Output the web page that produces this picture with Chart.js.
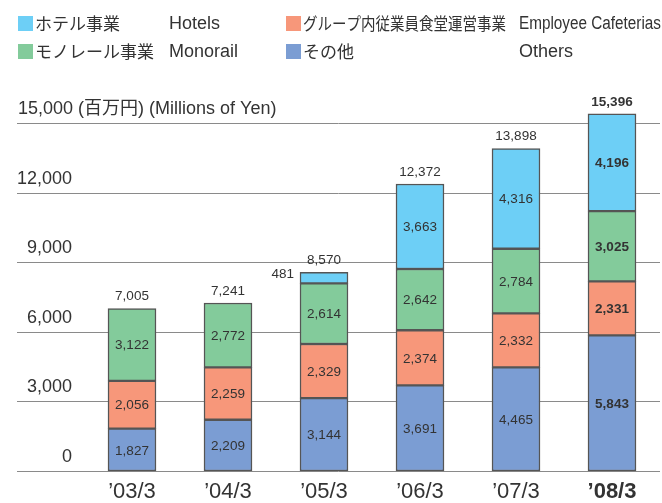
<!DOCTYPE html>
<html><head><meta charset="utf-8">
<script src="https://cdn.jsdelivr.net/npm/chart.js@4.4.1/dist/chart.umd.min.js"></script>
<style>html,body{margin:0;padding:0;background:#fff;}#wrap{width:662px;height:503px;position:relative;}</style>
</head><body><div id="wrap"><canvas id="c" width="662" height="503"></canvas></div>
<script>
const categories = ["’03/3","’04/3","’05/3","’06/3","’07/3","’08/3"];
const others     = [1827, 2209, 3144, 3691, 4465, 5843];
const cafeterias = [2056, 2259, 2329, 2374, 2332, 2331];
const monorail   = [3122, 2772, 2614, 2642, 2784, 3025];
const hotels     = [null, null, 481, 3663, 4316, 4196];
const totals     = [7005, 7241, 8570, 12372, 13898, 15396];
const yTicks     = [0, 3000, 6000, 9000, 12000, 15000];
const namesJa = ["その他", "グループ内従業員食堂運営事業", "モノレール事業", "ホテル事業"];
const namesEn = ["Others", "Employee Cafeterias", "Monorail", "Hotels"];
const unitLabel = "15,000 (百万円) (Millions of Yen)";

const colors = ["#7b9dd3", "#f7977a", "#83cb9b", "#6dcff6"];
const JP = '"Noto Sans CJK JP","Liberation Sans",Arial,sans-serif';
const EN = '"Liberation Sans",Arial,Helvetica,sans-serif';
const MIX = '"Liberation Sans","Noto Sans CJK JP",Arial,sans-serif';
const fmt = v => v.toLocaleString('en-US');

const gridPlugin = {
  id: 'grid',
  beforeDatasetsDraw(chart) {
    const ctx = chart.ctx, y = chart.scales.y;
    ctx.save();
    ctx.strokeStyle = '#8a8a8a';
    ctx.lineWidth = 1;
    yTicks.forEach(t => {
      const py = Math.round(y.getPixelForValue(t)) + 0.5;
      ctx.beginPath(); ctx.moveTo(17, py); ctx.lineTo(chart.chartArea.right, py); ctx.stroke();
    });
    ctx.fillStyle = '#333';
    ctx.font = '18px ' + MIX;
    ctx.textBaseline = 'middle';
    ctx.textAlign = 'left';
    ctx.fillText(unitLabel, 18, y.getPixelForValue(15000) - 14, 276);
    ctx.restore();
  }
};

const legendPlugin = {
  id: 'customLegend',
  afterDraw(chart) {
    const ctx = chart.ctx;
    const items = [
      {ds: 3, x: 18, y: 23, jaMax: null, enX: 169, enMax: null},
      {ds: 2, x: 18, y: 51, jaMax: null, enX: 169, enMax: null},
      {ds: 1, x: 286, y: 23, jaMax: 203, enX: 519, enMax: 142},
      {ds: 0, x: 286, y: 51, jaMax: null, enX: 519, enMax: null}
    ];
    ctx.save();
    ctx.textBaseline = 'middle';
    ctx.textAlign = 'left';
    items.forEach(it => {
      const d = chart.data.datasets[it.ds];
      ctx.fillStyle = d.backgroundColor;
      ctx.fillRect(it.x, it.y - 7, 15, 15);
      ctx.fillStyle = '#333';
      ctx.font = '17px ' + JP;
      if (it.jaMax) ctx.fillText(namesJa[it.ds], it.x + 17, it.y + 1, it.jaMax);
      else ctx.fillText(namesJa[it.ds], it.x + 17, it.y + 1);
      ctx.font = '18px ' + EN;
      if (it.enMax) ctx.fillText(namesEn[it.ds], it.enX, it.y + 1, it.enMax);
      else ctx.fillText(namesEn[it.ds], it.enX, it.y + 1);
    });
    ctx.restore();
  }
};

const labelPlugin = {
  id: 'valueLabels',
  afterDatasetsDraw(chart) {
    const ctx = chart.ctx;
    ctx.save();
    ctx.fillStyle = '#333';
    ctx.textBaseline = 'middle';
    chart.data.datasets.forEach((ds, di) => {
      const meta = chart.getDatasetMeta(di);
      meta.data.forEach((el, i) => {
        const v = ds.data[i];
        if (v == null) return;
        const bold = i === categories.length - 1;
        ctx.font = (bold ? 'bold ' : '') + '13.5px ' + EN;
        const h = Math.abs(el.base - el.y);
        const cy = (el.base + el.y) / 2;
        if (h < 20) {
          ctx.textAlign = 'right';
          ctx.fillText(fmt(v), el.x - el.width / 2 - 6, cy - 4);
        } else {
          ctx.textAlign = 'center';
          ctx.fillText(fmt(v), el.x, cy + 1);
        }
      });
    });
    const y = chart.scales.y, x = chart.scales.x;
    totals.forEach((t, i) => {
      const bold = i === categories.length - 1;
      ctx.font = (bold ? 'bold ' : '') + '13.5px ' + EN;
      ctx.textAlign = 'center';
      ctx.fillText(fmt(t), x.getPixelForValue(i), y.getPixelForValue(t) - 12);
    });
    ctx.restore();
  }
};

const mk = (label, data, ci) => ({
  label, data,
  backgroundColor: colors[ci],
  borderColor: '#555',
  borderWidth: 1.5,
  borderSkipped: false,
  barThickness: 48,
  clip: false
});

new Chart(document.getElementById('c'), {
  type: 'bar',
  data: {
    labels: categories,
    datasets: [
      mk(namesEn[0], others, 0),
      mk(namesEn[1], cafeterias, 1),
      mk(namesEn[2], monorail, 2),
      mk(namesEn[3], hotels, 3)
    ]
  },
  options: {
    responsive: false,
    animation: false,
    layout: {padding: {top: 123, right: 2, left: 0, bottom: 0}},
    plugins: {legend: {display: false}, tooltip: {enabled: false}},
    scales: {
      x: {
        stacked: true,
        grid: {display: false, drawTicks: false},
        border: {display: false},
        ticks: {
          padding: 8,
          color: '#333',
          font: c => ({family: EN, size: 22, weight: c.index === 5 ? 'bold' : 'normal'})
        },
        afterFit: s => { s.height = 32; }
      },
      y: {
        stacked: true,
        min: 0, max: 15000,
        grid: {display: false, drawTicks: false},
        border: {display: false},
        afterBuildTicks: s => { s.ticks = yTicks.map(v => ({value: v})); },
        ticks: {
          padding: 12,
          labelOffset: -14,
          color: '#333',
          font: {family: EN, size: 18},
          callback: v => v === 15000 ? '' : fmt(v)
        },
        afterFit: s => { s.width = 84; }
      }
    }
  },
  plugins: [gridPlugin, labelPlugin, legendPlugin]
});
</script></body></html>
